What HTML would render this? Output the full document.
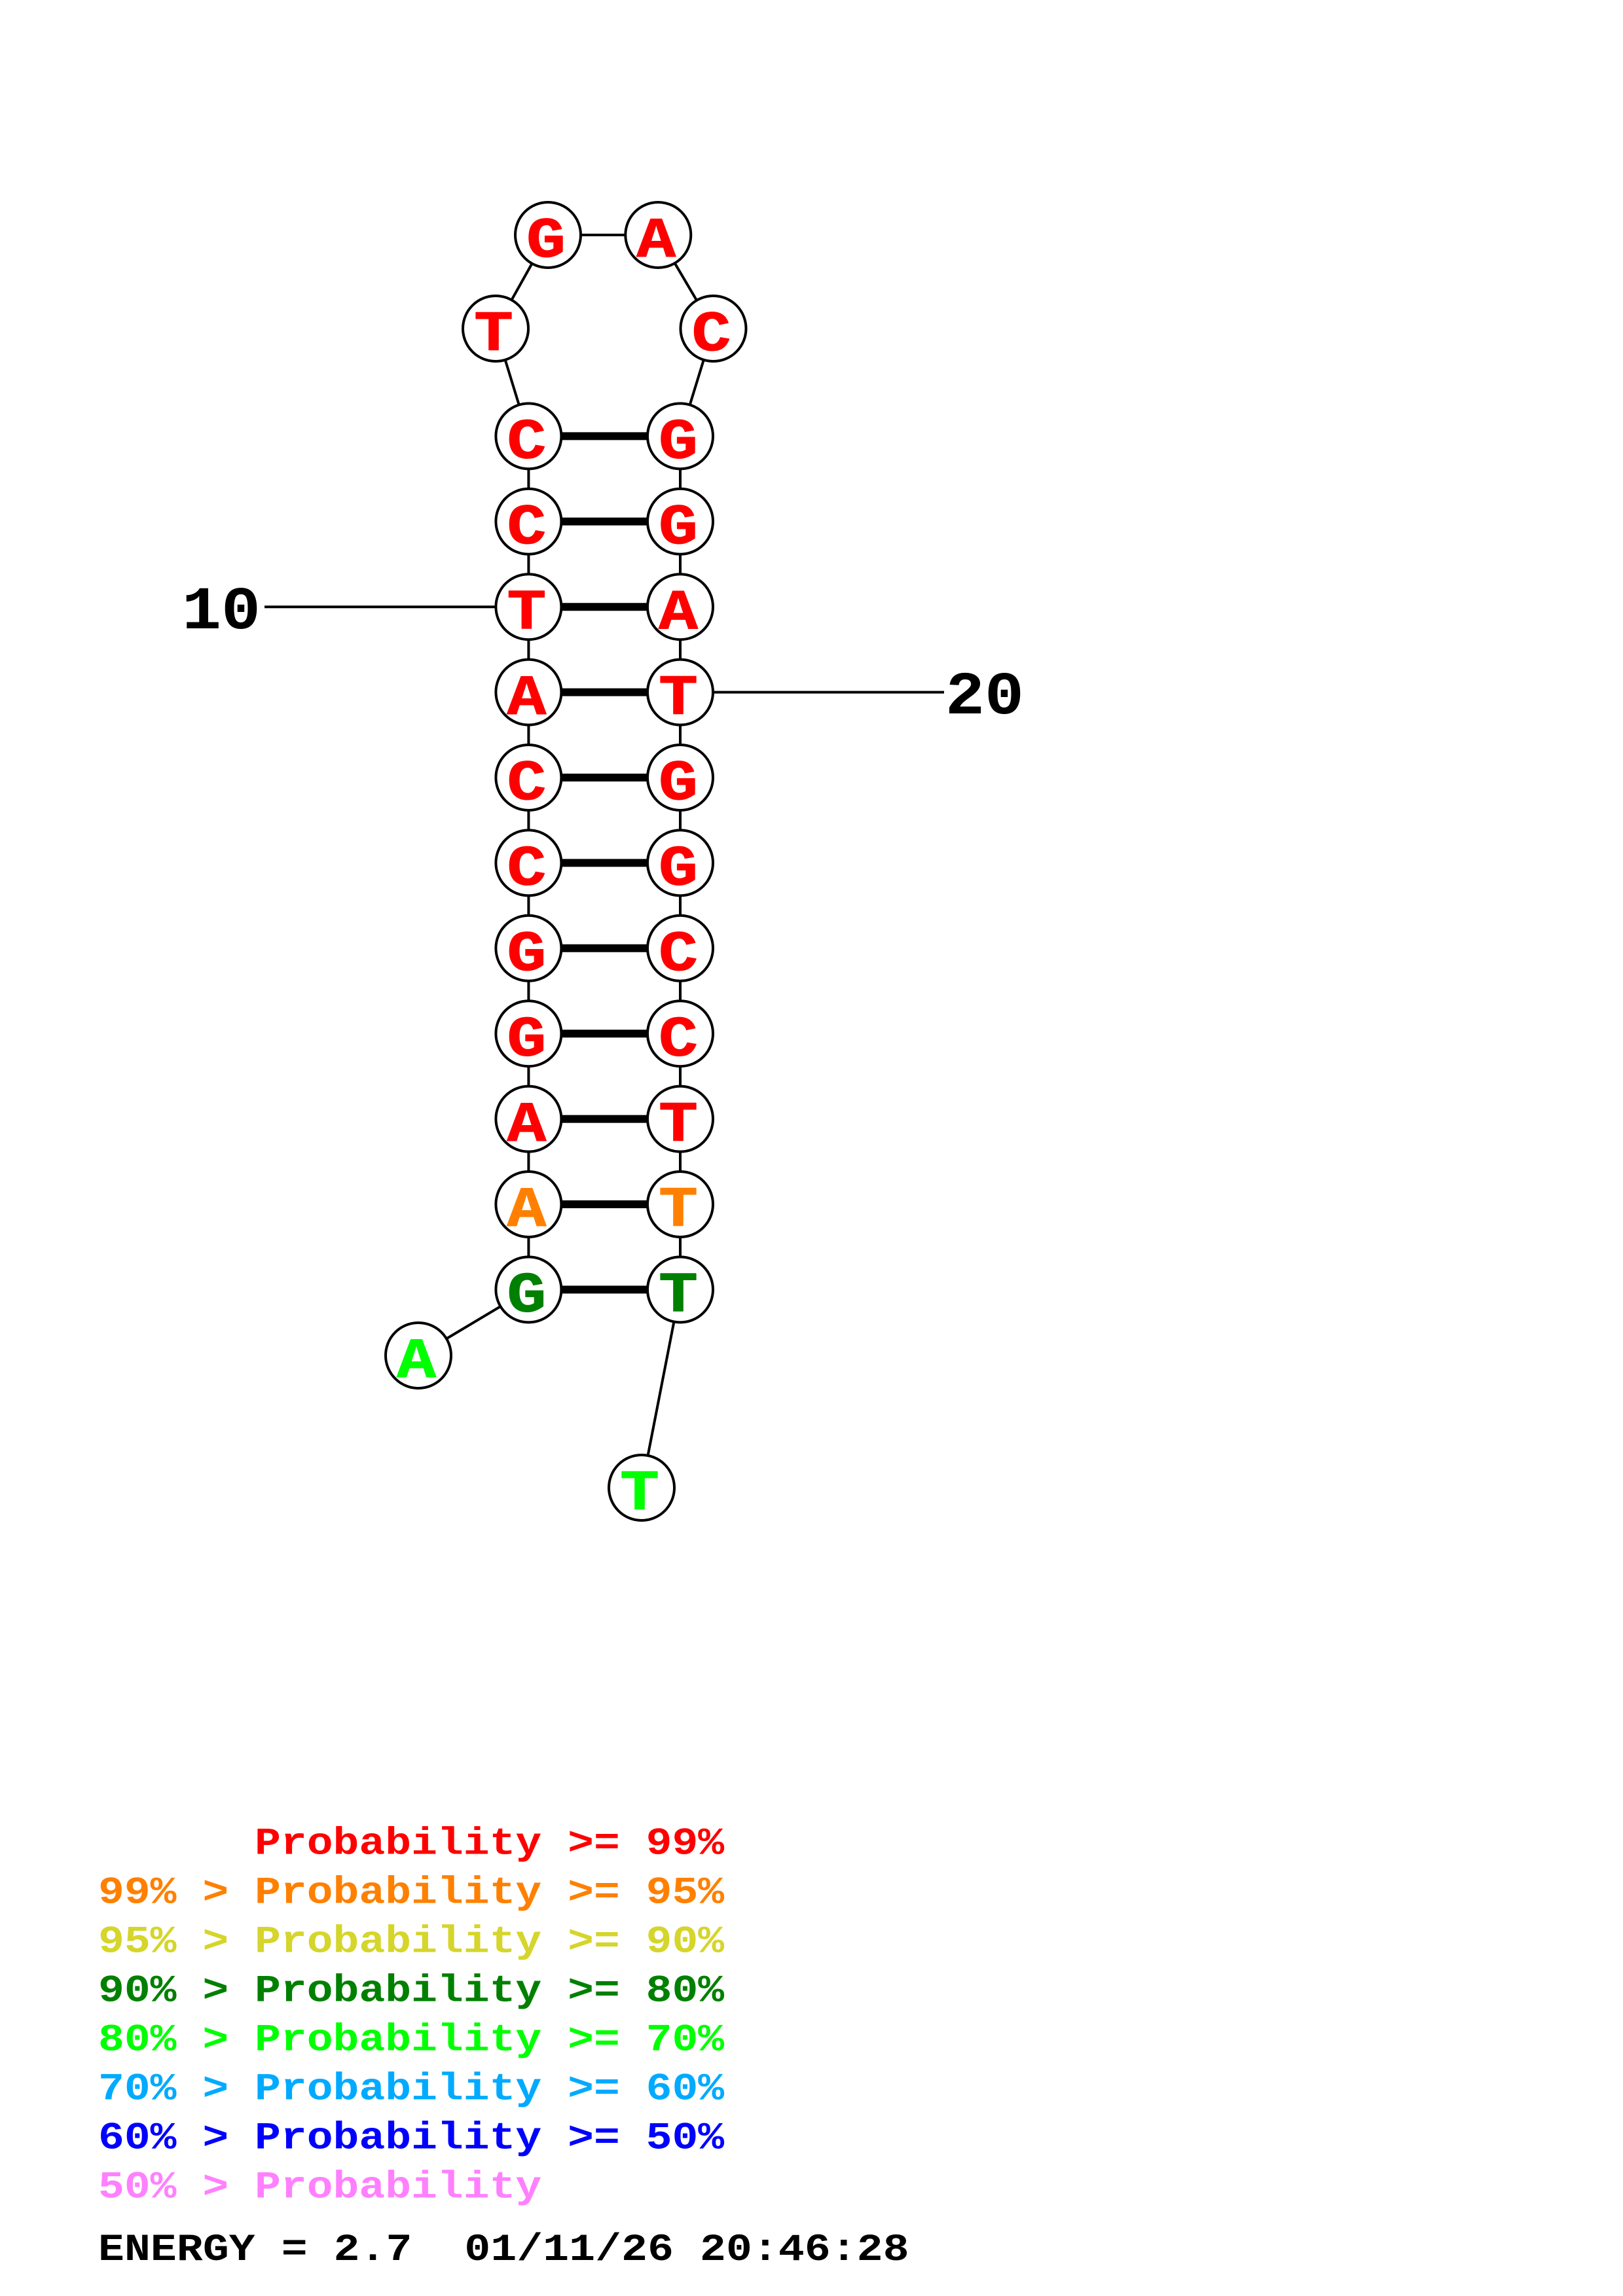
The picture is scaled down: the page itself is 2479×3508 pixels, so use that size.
<!DOCTYPE html>
<html><head><meta charset="utf-8"><style>
html,body{margin:0;padding:0;background:#fff}
svg{display:block}
text{font-family:"Liberation Mono",monospace;font-weight:bold;white-space:pre}
.n g{fill:currentColor}
.n text{font-size:100px;text-anchor:middle;fill:currentColor;stroke:currentColor;stroke-width:1.2px;stroke-linejoin:round;transform:translate(-3px,33.2px) scale(1,.87)}
.n circle{fill:#fff;stroke:#000;stroke-width:4}
.t line{stroke:#000;stroke-width:4}
.b line{stroke:#000;stroke-width:12}
.s{font-size:100px;transform:scale(1,.93)}
.l{font-size:66.4px;transform:scale(1,.88)}
.e{letter-spacing:.12px}
</style></head><body>
<svg width="2479" height="3508" viewBox="0 0 2479 3508" xmlns="http://www.w3.org/2000/svg">
<rect width="2479" height="3508" fill="#fff"/>
<g class="t">
<line x1="837" y1="359" x2="1005.3" y2="359"/>
<line x1="837" y1="359" x2="757" y2="502"/>
<line x1="1005.3" y1="359" x2="1089.5" y2="502"/>
<line x1="757" y1="502" x2="807.4" y2="666.4"/>
<line x1="1089.5" y1="502" x2="1039" y2="666.4"/>
<line x1="807.4" y1="666.4" x2="807.4" y2="1970.4"/>
<line x1="1039" y1="666.4" x2="1039" y2="1970.4"/>
<line x1="807.4" y1="1970.4" x2="639" y2="2071"/>
<line x1="1039" y1="1970.4" x2="980" y2="2273"/>
<line x1="404" y1="927.2" x2="807.4" y2="927.2"/>
<line x1="1039" y1="1057.6" x2="1442" y2="1057.6"/>
</g>
<g class="b">
<line x1="807.4" y1="666.4" x2="1039" y2="666.4"/>
<line x1="807.4" y1="796.8" x2="1039" y2="796.8"/>
<line x1="807.4" y1="927.2" x2="1039" y2="927.2"/>
<line x1="807.4" y1="1057.6" x2="1039" y2="1057.6"/>
<line x1="807.4" y1="1188" x2="1039" y2="1188"/>
<line x1="807.4" y1="1318.4" x2="1039" y2="1318.4"/>
<line x1="807.4" y1="1448.8" x2="1039" y2="1448.8"/>
<line x1="807.4" y1="1579.2" x2="1039" y2="1579.2"/>
<line x1="807.4" y1="1709.6" x2="1039" y2="1709.6"/>
<line x1="807.4" y1="1840" x2="1039" y2="1840"/>
<line x1="807.4" y1="1970.4" x2="1039" y2="1970.4"/>
</g>
<g class="n" color="#f00">
<g transform="translate(837 359)"><circle r="50"/><text>G</text></g>
<g transform="translate(1005.3 359)"><circle r="50"/><text>A</text></g>
<g transform="translate(757 502)"><circle r="50"/><text>T</text></g>
<g transform="translate(1089.5 502)"><circle r="50"/><text>C</text></g>
<g transform="translate(807.4 666.4)"><circle r="50"/><text>C</text></g>
<g transform="translate(1039 666.4)"><circle r="50"/><text>G</text></g>
<g transform="translate(807.4 796.8)"><circle r="50"/><text>C</text></g>
<g transform="translate(1039 796.8)"><circle r="50"/><text>G</text></g>
<g transform="translate(807.4 927.2)"><circle r="50"/><text>T</text></g>
<g transform="translate(1039 927.2)"><circle r="50"/><text>A</text></g>
<g transform="translate(807.4 1057.6)"><circle r="50"/><text>A</text></g>
<g transform="translate(1039 1057.6)"><circle r="50"/><text>T</text></g>
<g transform="translate(807.4 1188)"><circle r="50"/><text>C</text></g>
<g transform="translate(1039 1188)"><circle r="50"/><text>G</text></g>
<g transform="translate(807.4 1318.4)"><circle r="50"/><text>C</text></g>
<g transform="translate(1039 1318.4)"><circle r="50"/><text>G</text></g>
<g transform="translate(807.4 1448.8)"><circle r="50"/><text>G</text></g>
<g transform="translate(1039 1448.8)"><circle r="50"/><text>C</text></g>
<g transform="translate(807.4 1579.2)"><circle r="50"/><text>G</text></g>
<g transform="translate(1039 1579.2)"><circle r="50"/><text>C</text></g>
<g transform="translate(807.4 1709.6)"><circle r="50"/><text>A</text></g>
<g transform="translate(1039 1709.6)"><circle r="50"/><text>T</text></g>
<g transform="translate(807.4 1840)" color="#ff8000"><circle r="50"/><text>A</text></g>
<g transform="translate(1039 1840)" color="#ff8000"><circle r="50"/><text>T</text></g>
<g transform="translate(807.4 1970.4)" color="#008000"><circle r="50"/><text>G</text></g>
<g transform="translate(1039 1970.4)" color="#008000"><circle r="50"/><text>T</text></g>
<g transform="translate(639 2071)" color="#0f0"><circle r="50"/><text>A</text></g>
<g transform="translate(980 2273)" color="#0f0"><circle r="50"/><text>T</text></g>
</g>
<g transform="translate(278 960)"><text class="s">10</text></g>
<g transform="translate(1444 1090)"><text class="s">20</text></g>
<g transform="translate(150 2832.7)"><text class="l" fill="#f00">      Probability &gt;= 99%</text></g>
<g transform="translate(150 2907.7)"><text class="l" fill="#ff8000">99% &gt; Probability &gt;= 95%</text></g>
<g transform="translate(150 2982.7)"><text class="l" fill="#d5d52b">95% &gt; Probability &gt;= 90%</text></g>
<g transform="translate(150 3057.7)"><text class="l" fill="#008000">90% &gt; Probability &gt;= 80%</text></g>
<g transform="translate(150 3132.7)"><text class="l" fill="#0f0">80% &gt; Probability &gt;= 70%</text></g>
<g transform="translate(150 3207.7)"><text class="l" fill="#0af">70% &gt; Probability &gt;= 60%</text></g>
<g transform="translate(150 3282.7)"><text class="l" fill="#00f">60% &gt; Probability &gt;= 50%</text></g>
<g transform="translate(150 3357.7)"><text class="l" fill="#ff80ff">50% &gt; Probability</text></g>
<g transform="translate(150 3453)"><text class="l e" fill="#000">ENERGY = 2.7  01/11/26 20:46:28</text></g>
</svg>
</body></html>
